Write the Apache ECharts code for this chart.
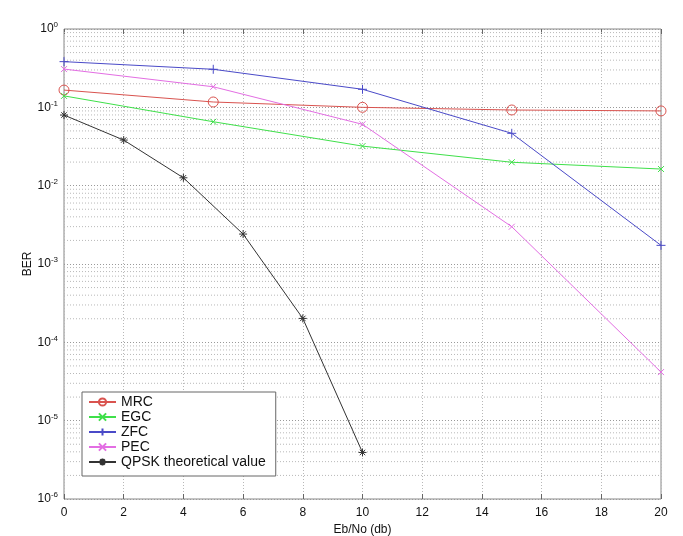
<!DOCTYPE html>
<html>
<head>
<meta charset="utf-8">
<script src="https://cdn.jsdelivr.net/npm/echarts@6/dist/echarts.min.js"></script>
<style>
	html,body{margin:0;padding:0;background:#fff;}
	#main{width:683px;height:536px;}
</style>
</head>
<body>
<div id="main"></div>
<script type="text/javascript">
	// Eb/No (db)
	var snr5 = [0, 5, 10, 15, 20];
	var snrQpsk = [0, 2, 4, 6, 8, 10];

	// BER values
	var berMRC = [0.166, 0.117, 0.100, 0.0925, 0.090];
	var berEGC = [0.140, 0.0655, 0.032, 0.0199, 0.0163];
	var berZFC = [0.383, 0.306, 0.170, 0.0466, 0.00173];
	var berPEC = [0.308, 0.183, 0.0607, 0.00299, 0.0000417];
	var berQPSK = [0.0797, 0.0382, 0.0126, 0.00241, 0.000202, 0.00000393];

	var names = ["MRC", "EGC", "ZFC", "PEC", "QPSK theoretical value"];
	var colors = ["#d9534f", "#3fe04a", "#4a4ac8", "#e36ee3", "#333333"];

	// minor grid lines 2..9 x 10^k, drawn as broken line segments across the x range
	var minorGrid = [];
	for (var k = -6; k < 0; k++) {
		for (var m = 2; m <= 9; m++) {
			var v = m * Math.pow(10, k);
			minorGrid.push([0, v], [20, v], [20, '-']);
		}
	}

	function zip(xs, ys){
		return xs.map(function(x, i){ return [x, ys[i]]; });
	}

	var symX = 'path://M0,0L10,10M10,0L0,10';
	var symPlus = 'path://M5,0L5,10M0,5L10,5';
	var symStar = 'path://M5,0L5,10M0,5L10,5M1.6,1.6L8.4,8.4M8.4,1.6L1.6,8.4';

	function mkSeries(i, data, symbol, size){
		return {
			name: names[i],
			type: 'line',
			data: data,
			symbol: symbol,
			symbolSize: size,
			showAllSymbol: true,
			lineStyle: {color: colors[i], width: 1},
			itemStyle: {color: symbol === 'circle' ? 'transparent' : colors[i], borderColor: colors[i], borderWidth: 1},
			emphasis: {disabled: true},
			z: 5
		};
	}

	var font = "Liberation Sans, Arial, sans-serif";

	var myChart = echarts.init(document.getElementById("main"));
	var series = [
		mkSeries(0, zip(snr5, berMRC), 'circle', 10),
		mkSeries(1, zip(snr5, berEGC), symX, 6),
		mkSeries(2, zip(snr5, berZFC), symPlus, 9),
		mkSeries(3, zip(snr5, berPEC), symX, 6),
		mkSeries(4, zip(snrQpsk, berQPSK), symStar, 8)
	];
	series.push({
		type: 'line',
		data: minorGrid,
		symbol: 'none',
		silent: true,
		connectNulls: false,
		lineStyle: {color: '#b8b8b8', type: [1, 2], width: 1},
		z: 1
	});

	var option = {
		animation: false,
		color: colors,
		grid: {
			left: 64, right: 22, top: 29, bottom: 37,
			outerBoundsMode: 'none',
			show: true, borderColor: '#888', borderWidth: 1, backgroundColor: '#fff'
		},
		legend: {
			data: names,
			orient: 'vertical',
			left: 82,
			top: 392,
			itemWidth: 27,
			itemHeight: 9,
			itemGap: 1,
			padding: [3, 10, 7, 6],
			backgroundColor: '#fff',
			borderColor: '#666',
			borderWidth: 1,
			textStyle: {fontFamily: font, fontSize: 14, color: '#111'},
			selectedMode: false
		},
		xAxis: [{
			type: 'value',
			min: 0, max: 20, interval: 2,
			name: 'Eb/No (db)',
			nameLocation: 'middle',
			nameGap: 25,
			nameMoveOverlap: false,
			nameTextStyle: {fontFamily: font, fontSize: 12, color: '#111'},
			axisLine: {show: false},
			axisTick: {inside: true, length: 5, lineStyle: {color: '#666'}},
			axisLabel: {fontFamily: font, fontSize: 12, color: '#111', margin: 8},
			splitLine: {show: true, lineStyle: {color: '#b8b8b8', type: [1, 2]}}
		}, {
			type: 'value',
			position: 'top',
			min: 0, max: 20, interval: 2,
			axisLine: {show: false},
			axisTick: {inside: true, length: 5, lineStyle: {color: '#666'}},
			axisLabel: {show: false},
			splitLine: {show: false}
		}],
		yAxis: [{
			type: 'log',
			logBase: 10,
			min: 1e-6, max: 1,
			interval: 1,
			name: 'BER',
			nameLocation: 'middle',
			nameGap: 30,
			nameMoveOverlap: false,
			nameRotate: 90,
			nameTextStyle: {fontFamily: font, fontSize: 12, color: '#111'},
			axisLine: {show: false},
			axisTick: {show: false},
			axisLabel: {
				margin: 6,
				formatter: function(v){
					var e = Math.round(Math.log(v) / Math.LN10);
					return '{b|10}{s|' + e + '}';
				},
				rich: {
					b: {fontFamily: font, fontSize: 12, color: '#111'},
					s: {fontFamily: font, fontSize: 8, color: '#111', verticalAlign: 'top', padding: [0, 0, 8, 0]}
				}
			},
			splitLine: {show: true, lineStyle: {color: '#999', type: [1, 2]}}
		}, {
			type: 'log',
			logBase: 10,
			position: 'right',
			min: 1e-6, max: 1,
			interval: 1,
			axisLine: {show: false},
			axisTick: {show: false},
			axisLabel: {show: false},
			splitLine: {show: false}
		}],
		series: series
	};

	myChart.setOption(option);
</script>
</body>
</html>
